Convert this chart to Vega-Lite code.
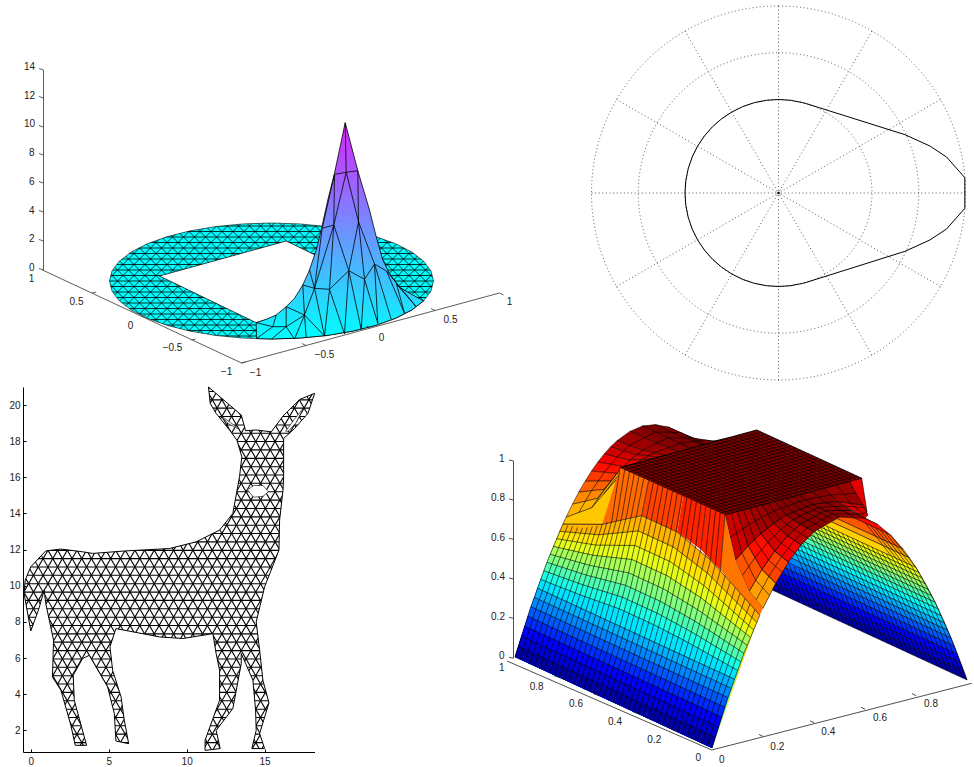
{"$schema":"https://vega.github.io/schema/vega-lite/v6.json","padding":{"left":8,"top":0,"right":0,"bottom":0},"background":"white","spacing":2,"config":{"view":{"stroke":null},"text":{"font":"Liberation Sans","fontSize":10,"fill":"#222"}},
"datasets":{
"aLat":[{"x":-238,"x2":-114,"y":-62,"y2":62},{"x":-227,"x2":-103,"y":-62,"y2":62},{"x":-216,"x2":-92,"y":-62,"y2":62},{"x":-205,"x2":-81,"y":-62,"y2":62},{"x":-194,"x2":-70,"y":-62,"y2":62},{"x":-183,"x2":-59,"y":-62,"y2":62},{"x":-172,"x2":-48,"y":-62,"y2":62},{"x":-161,"x2":-37,"y":-62,"y2":62},{"x":-150,"x2":-26,"y":-62,"y2":62},{"x":-139,"x2":-15,"y":-62,"y2":62},{"x":-128,"x2":-4,"y":-62,"y2":62},{"x":-117,"x2":7,"y":-62,"y2":62},{"x":-106,"x2":18,"y":-62,"y2":62},{"x":-95,"x2":29,"y":-62,"y2":62},{"x":-84,"x2":40,"y":-62,"y2":62},{"x":-73,"x2":51,"y":-62,"y2":62},{"x":-62,"x2":62,"y":-62,"y2":62},{"x":-51,"x2":73,"y":-62,"y2":62},{"x":-40,"x2":84,"y":-62,"y2":62},{"x":-29,"x2":95,"y":-62,"y2":62},{"x":-18,"x2":106,"y":-62,"y2":62},{"x":-7,"x2":117,"y":-62,"y2":62},{"x":4,"x2":128,"y":-62,"y2":62},{"x":15,"x2":139,"y":-62,"y2":62},{"x":26,"x2":150,"y":-62,"y2":62},{"x":37,"x2":161,"y":-62,"y2":62},{"x":48,"x2":172,"y":-62,"y2":62},{"x":59,"x2":183,"y":-62,"y2":62},{"x":70,"x2":194,"y":-62,"y2":62},{"x":81,"x2":205,"y":-62,"y2":62},{"x":92,"x2":216,"y":-62,"y2":62},{"x":103,"x2":227,"y":-62,"y2":62},{"x":114,"x2":238,"y":-62,"y2":62},{"x2":-238,"x":-114,"y":-62,"y2":62},{"x2":-227,"x":-103,"y":-62,"y2":62},{"x2":-216,"x":-92,"y":-62,"y2":62},{"x2":-205,"x":-81,"y":-62,"y2":62},{"x2":-194,"x":-70,"y":-62,"y2":62},{"x2":-183,"x":-59,"y":-62,"y2":62},{"x2":-172,"x":-48,"y":-62,"y2":62},{"x2":-161,"x":-37,"y":-62,"y2":62},{"x2":-150,"x":-26,"y":-62,"y2":62},{"x2":-139,"x":-15,"y":-62,"y2":62},{"x2":-128,"x":-4,"y":-62,"y2":62},{"x2":-117,"x":7,"y":-62,"y2":62},{"x2":-106,"x":18,"y":-62,"y2":62},{"x2":-95,"x":29,"y":-62,"y2":62},{"x2":-84,"x":40,"y":-62,"y2":62},{"x2":-73,"x":51,"y":-62,"y2":62},{"x2":-62,"x":62,"y":-62,"y2":62},{"x2":-51,"x":73,"y":-62,"y2":62},{"x2":-40,"x":84,"y":-62,"y2":62},{"x2":-29,"x":95,"y":-62,"y2":62},{"x2":-18,"x":106,"y":-62,"y2":62},{"x2":-7,"x":117,"y":-62,"y2":62},{"x2":4,"x":128,"y":-62,"y2":62},{"x2":15,"x":139,"y":-62,"y2":62},{"x2":26,"x":150,"y":-62,"y2":62},{"x2":37,"x":161,"y":-62,"y2":62},{"x2":48,"x":172,"y":-62,"y2":62},{"x2":59,"x":183,"y":-62,"y2":62},{"x2":70,"x":194,"y":-62,"y2":62},{"x2":81,"x":205,"y":-62,"y2":62},{"x2":92,"x":216,"y":-62,"y2":62},{"x2":103,"x":227,"y":-62,"y2":62},{"x2":114,"x":238,"y":-62,"y2":62}],
"aRow":[{"x":-240,"x2":240,"y":-60.5},{"x":-240,"x2":240,"y":-55},{"x":-240,"x2":240,"y":-49.5},{"x":-240,"x2":240,"y":-44},{"x":-240,"x2":240,"y":-38.5},{"x":-240,"x2":240,"y":-33},{"x":-240,"x2":240,"y":-27.5},{"x":-240,"x2":240,"y":-22},{"x":-240,"x2":240,"y":-16.5},{"x":-240,"x2":240,"y":-11},{"x":-240,"x2":240,"y":-5.5},{"x":-240,"x2":240,"y":0},{"x":-240,"x2":240,"y":5.5},{"x":-240,"x2":240,"y":11},{"x":-240,"x2":240,"y":16.5},{"x":-240,"x2":240,"y":22},{"x":-240,"x2":240,"y":27.5},{"x":-240,"x2":240,"y":33},{"x":-240,"x2":240,"y":38.5},{"x":-240,"x2":240,"y":44},{"x":-240,"x2":240,"y":49.5},{"x":-240,"x2":240,"y":55},{"x":-240,"x2":240,"y":60.5}],
"aBase":[{"x":-240,"y":-62},{"x":240,"y":-62},{"x":240,"y":62},{"x":-240,"y":62}],
"aMask":[{"x":245,"y":0,"e":1},{"x":245,"y":64,"e":1},{"x":-245,"y":64,"e":1},{"x":-245,"y":-64,"e":1},{"x":245,"y":-64,"e":1},{"x":245,"y":0,"e":1},{"x":162,"y":0},{"x":159.5,"y":-10.1},{"x":152.2,"y":-19.8},{"x":140.3,"y":-29},{"x":124.1,"y":-37.3},{"x":104.1,"y":-44.4},{"x":81,"y":-50.2},{"x":55.4,"y":-54.5},{"x":28.2,"y":-57.1},{"x":0,"y":-58},{"x":-28.2,"y":-57.1},{"x":-55.4,"y":-54.5},{"x":-81,"y":-50.2},{"x":-104.1,"y":-44.4},{"x":-124.1,"y":-37.3},{"x":-140.3,"y":-29},{"x":-152.2,"y":-19.8},{"x":-159.5,"y":-10.1},{"x":-162,"y":0},{"x":-159.5,"y":10.1},{"x":-152.2,"y":19.8},{"x":-140.3,"y":29},{"x":-124.1,"y":37.3},{"x":-104.1,"y":44.4},{"x":-81,"y":50.2},{"x":-55.4,"y":54.5},{"x":-28.2,"y":57.1},{"x":0,"y":58},{"x":28.2,"y":57.1},{"x":55.4,"y":54.5},{"x":81,"y":50.2},{"x":104.1,"y":44.4},{"x":124.1,"y":37.3},{"x":140.3,"y":29},{"x":152.2,"y":19.8},{"x":159.5,"y":10.1},{"x":162,"y":0}],
"aHole":[{"x":-112,"y":5},{"x":14.7,"y":40},{"x":111.4,"y":-6.7},{"x":-15.3,"y":-41.7},{"x":-112,"y":5}],
"aPeak":[{"x":-15.3,"y":-41.7},{"x":-5.3,"y":-38.3},{"x":4.7,"y":-34},{"x":14.7,"y":-25.7},{"x":23,"y":-17.3},{"x":31.3,"y":-4},{"x":38,"y":11},{"x":44.7,"y":31},{"x":49.7,"y":51},{"x":56.3,"y":81},{"x":63,"y":107.7},{"x":73.7,"y":158.3},{"x":86.3,"y":110.3},{"x":98,"y":71},{"x":104.7,"y":44.3},{"x":111.3,"y":21},{"x":118,"y":7.7},{"x":128,"y":-6.3},{"x":141.3,"y":-14},{"x":152.2,"y":-19.8},{"x":140.3,"y":-29},{"x":124.1,"y":-37.3},{"x":104.1,"y":-44.4},{"x":81,"y":-50.2},{"x":55.4,"y":-54.5},{"x":28.2,"y":-57.1},{"x":0,"y":-58},{"x":-15,"y":-57.6}],
"aEdge":[{"x":73.7,"y":158.3,"x2":74.7,"y2":108.7},{"x":63,"y":106.7,"x2":74.7,"y2":108.7},{"x":74.7,"y":108.7,"x2":86.3,"y2":110.3},{"x":74.7,"y":108.7,"x2":62.3,"y2":56},{"x":74.7,"y":108.7,"x2":87,"y2":59.3},{"x":63,"y":106.7,"x2":62.3,"y2":56},{"x":86.3,"y":110.3,"x2":87,"y2":59.3},{"x":63,"y":106.7,"x2":50.7,"y2":52.7},{"x":50.7,"y":52.7,"x2":62.3,"y2":56},{"x":62.3,"y":56,"x2":77.3,"y2":10.3},{"x":62.3,"y":56,"x2":58,"y2":-8.3},{"x":87,"y":59.3,"x2":77.3,"y2":10.3},{"x":87,"y":59.3,"x2":93,"y2":1.7},{"x":87,"y":59.3,"x2":103,"y2":17},{"x":50.7,"y":52.7,"x2":43,"y2":-7.3},{"x":62.3,"y":56,"x2":43,"y2":-7.3},{"x":43,"y":-7.3,"x2":58,"y2":-8.3},{"x":58,"y":-8.3,"x2":77.3,"y2":10.3},{"x":77.3,"y":10.3,"x2":93,"y2":1.7},{"x":93,"y":1.7,"x2":103,"y2":17},{"x":103,"y":17,"x2":115,"y2":10},{"x":77.3,"y":10.3,"x2":73,"y2":-53},{"x":77.3,"y":10.3,"x2":89.7,"y2":-48.3},{"x":58,"y":-8.3,"x2":53,"y2":-55},{"x":58,"y":-8.3,"x2":73,"y2":-53},{"x":93,"y":1.7,"x2":89.7,"y2":-48.3},{"x":93,"y":1.7,"x2":106.3,"y2":-42.3},{"x":103,"y":17,"x2":106.3,"y2":-42.3},{"x":103,"y":17,"x2":119.7,"y2":-38.3},{"x":115,"y":10,"x2":133,"y2":-32.3},{"x":115,"y":10,"x2":144.7,"y2":-25.7},{"x":125,"y":-3,"x2":144.7,"y2":-25.7},{"x":125,"y":-3,"x2":133,"y2":-32.3},{"x":43,"y":-7.3,"x2":33,"y2":-34},{"x":33,"y":-34,"x2":34.7,"y2":-56.3},{"x":33,"y":-34,"x2":23,"y2":-58},{"x":33,"y":-34,"x2":53,"y2":-55},{"x":43,"y":-7.3,"x2":53,"y2":-55},{"x":33,"y":-34,"x2":14.7,"y2":-45.7},{"x":14.7,"y":-45.7,"x2":1.3,"y2":-45.7},{"x":14.7,"y":-45.7,"x2":23,"y2":-58},{"x":14.7,"y":-45.7,"x2":0,"y2":-58},{"x":1.3,"y":-45.7,"x2":-15,"y2":-57.6},{"x":14.7,"y":-25.7,"x2":33,"y2":-34},{"x":14.7,"y":-25.7,"x2":14.7,"y2":-45.7},{"x":31.3,"y":-4,"x2":33,"y2":-34},{"x":31.3,"y":-4,"x2":43,"y2":-7.3},{"x":38,"y":11,"x2":43,"y2":-7.3},{"x":4.7,"y":-34,"x2":1.3,"y2":-45.7},{"x":-15.3,"y":-41.7,"x2":1.3,"y2":-45.7}],
"aAxis":[{"x":-228,"y":211,"x2":-228,"y2":11},{"x":-229,"y":11,"x2":-30,"y2":-82},{"x":-30,"y":-82,"x2":228,"y2":-12},{"x":-228,"y":211,"x2":-232.5,"y2":212.5},{"x":-228,"y":183,"x2":-232.5,"y2":184.5},{"x":-228,"y":154,"x2":-232.5,"y2":155.5},{"x":-228,"y":126,"x2":-232.5,"y2":127.5},{"x":-228,"y":98,"x2":-232.5,"y2":99.5},{"x":-228,"y":69,"x2":-232.5,"y2":70.5},{"x":-228,"y":40,"x2":-232.5,"y2":41.5},{"x":-228,"y":11,"x2":-232.5,"y2":12.5},{"x":-179.3,"y":-12,"x2":-175.3,"y2":-11},{"x":-130,"y":-35.5,"x2":-126,"y2":-34.5},{"x":-80,"y":-59,"x2":-76,"y2":-58},{"x":-30,"y":-82,"x2":-26,"y2":-81},{"x":34.5,"y":-64.5,"x2":30.5,"y2":-62.5},{"x":99,"y":-47,"x2":95,"y2":-45},{"x":163.5,"y":-29.5,"x2":159.5,"y2":-27.5},{"x":228,"y":-12,"x2":232,"y2":-14}],
"aText":[{"x":-242,"y":214.3,"t":"14"},{"x":-242,"y":185.3,"t":"12"},{"x":-242,"y":157,"t":"10"},{"x":-239.7,"y":128.3,"t":"8"},{"x":-239.7,"y":99,"t":"6"},{"x":-239.7,"y":70,"t":"4"},{"x":-239.7,"y":42,"t":"2"},{"x":-239.7,"y":13.3,"t":"0"},{"x":-240,"y":2,"t":"1"},{"x":-195,"y":-21,"t":"0.5"},{"x":-141,"y":-45,"t":"0"},{"x":-99,"y":-67,"t":"−0.5"},{"x":-45,"y":-91,"t":"−1"},{"x":-16,"y":-92,"t":"−1"},{"x":53,"y":-74,"t":"−0.5"},{"x":110,"y":-57,"t":"0"},{"x":179,"y":-39,"t":"0.5"},{"x":238,"y":-21,"t":"1"}],
"bRing":[{"x":0,"y":0,"r":1.5},{"x":0,"y":0,"r":2.25},{"x":0,"y":0,"r":3}],
"bSpoke":[{"x":3,"y":0},{"x":2.598,"y":1.5},{"x":1.5,"y":2.598},{"x":0,"y":3},{"x":-1.5,"y":2.598},{"x":-2.598,"y":1.5},{"x":-3,"y":0},{"x":-2.598,"y":-1.5},{"x":-1.5,"y":-2.598},{"x":0,"y":-3},{"x":1.5,"y":-2.598},{"x":2.598,"y":-1.5}],
"bCurve":[{"x":2.989,"y":0.246},{"x":2.695,"y":0.578},{"x":2.428,"y":0.754},{"x":2.027,"y":0.936},{"x":0.449,"y":1.433},{"x":0.388,"y":1.449},{"x":0.194,"y":1.487},{"x":0,"y":1.5},{"x":-0.194,"y":1.487},{"x":-0.388,"y":1.449},{"x":-0.574,"y":1.386},{"x":-0.75,"y":1.299},{"x":-0.913,"y":1.19},{"x":-1.061,"y":1.061},{"x":-1.19,"y":0.913},{"x":-1.299,"y":0.75},{"x":-1.386,"y":0.574},{"x":-1.449,"y":0.388},{"x":-1.487,"y":0.194},{"x":-1.5,"y":0},{"x":-1.487,"y":-0.194},{"x":-1.449,"y":-0.388},{"x":-1.386,"y":-0.574},{"x":-1.299,"y":-0.75},{"x":-1.19,"y":-0.913},{"x":-1.061,"y":-1.061},{"x":-0.913,"y":-1.19},{"x":-0.75,"y":-1.299},{"x":-0.574,"y":-1.386},{"x":-0.388,"y":-1.449},{"x":-0.194,"y":-1.487},{"x":0,"y":-1.5},{"x":0.194,"y":-1.487},{"x":0.388,"y":-1.449},{"x":0.449,"y":-1.433},{"x":2.027,"y":-0.936},{"x":2.428,"y":-0.754},{"x":2.695,"y":-0.578},{"x":2.989,"y":-0.246},{"x":2.989,"y":0.246}],
"cDiag":[{"x":-7,"x2":6.53,"y":0.8,"y2":21},{"x":-6.38,"x2":7.15,"y":0.8,"y2":21},{"x":-5.76,"x2":7.77,"y":0.8,"y2":21},{"x":-5.14,"x2":8.39,"y":0.8,"y2":21},{"x":-4.52,"x2":9.01,"y":0.8,"y2":21},{"x":-3.9,"x2":9.63,"y":0.8,"y2":21},{"x":-3.28,"x2":10.25,"y":0.8,"y2":21},{"x":-2.66,"x2":10.87,"y":0.8,"y2":21},{"x":-2.04,"x2":11.49,"y":0.8,"y2":21},{"x":-1.42,"x2":12.11,"y":0.8,"y2":21},{"x":-0.8,"x2":12.73,"y":0.8,"y2":21},{"x":-0.18,"x2":13.35,"y":0.8,"y2":21},{"x":0.44,"x2":13.97,"y":0.8,"y2":21},{"x":1.06,"x2":14.59,"y":0.8,"y2":21},{"x":1.68,"x2":15.21,"y":0.8,"y2":21},{"x":2.3,"x2":15.83,"y":0.8,"y2":21},{"x":2.92,"x2":16.45,"y":0.8,"y2":21},{"x":3.54,"x2":17.07,"y":0.8,"y2":21},{"x":4.16,"x2":17.69,"y":0.8,"y2":21},{"x":4.78,"x2":18.31,"y":0.8,"y2":21},{"x":5.4,"x2":18.93,"y":0.8,"y2":21},{"x":6.02,"x2":19.55,"y":0.8,"y2":21},{"x":6.64,"x2":20.17,"y":0.8,"y2":21},{"x":7.26,"x2":20.79,"y":0.8,"y2":21},{"x":7.88,"x2":21.41,"y":0.8,"y2":21},{"x":8.5,"x2":22.03,"y":0.8,"y2":21},{"x":9.12,"x2":22.65,"y":0.8,"y2":21},{"x":9.74,"x2":23.27,"y":0.8,"y2":21},{"x":10.36,"x2":23.89,"y":0.8,"y2":21},{"x":10.98,"x2":24.51,"y":0.8,"y2":21},{"x":11.6,"x2":25.13,"y":0.8,"y2":21},{"x":12.22,"x2":25.75,"y":0.8,"y2":21},{"x":12.84,"x2":26.37,"y":0.8,"y2":21},{"x":13.46,"x2":26.99,"y":0.8,"y2":21},{"x":14.08,"x2":27.61,"y":0.8,"y2":21},{"x":14.7,"x2":28.23,"y":0.8,"y2":21},{"x":3,"x2":-10.53,"y":0.8,"y2":21},{"x":3.62,"x2":-9.91,"y":0.8,"y2":21},{"x":4.24,"x2":-9.29,"y":0.8,"y2":21},{"x":4.86,"x2":-8.67,"y":0.8,"y2":21},{"x":5.48,"x2":-8.05,"y":0.8,"y2":21},{"x":6.1,"x2":-7.43,"y":0.8,"y2":21},{"x":6.72,"x2":-6.81,"y":0.8,"y2":21},{"x":7.34,"x2":-6.19,"y":0.8,"y2":21},{"x":7.96,"x2":-5.57,"y":0.8,"y2":21},{"x":8.58,"x2":-4.95,"y":0.8,"y2":21},{"x":9.2,"x2":-4.33,"y":0.8,"y2":21},{"x":9.82,"x2":-3.71,"y":0.8,"y2":21},{"x":10.44,"x2":-3.09,"y":0.8,"y2":21},{"x":11.06,"x2":-2.47,"y":0.8,"y2":21},{"x":11.68,"x2":-1.85,"y":0.8,"y2":21},{"x":12.3,"x2":-1.23,"y":0.8,"y2":21},{"x":12.92,"x2":-0.61,"y":0.8,"y2":21},{"x":13.54,"x2":0.01,"y":0.8,"y2":21},{"x":14.16,"x2":0.63,"y":0.8,"y2":21},{"x":14.78,"x2":1.25,"y":0.8,"y2":21},{"x":15.4,"x2":1.87,"y":0.8,"y2":21},{"x":16.02,"x2":2.49,"y":0.8,"y2":21},{"x":16.64,"x2":3.11,"y":0.8,"y2":21},{"x":17.26,"x2":3.73,"y":0.8,"y2":21},{"x":17.88,"x2":4.35,"y":0.8,"y2":21},{"x":18.5,"x2":4.97,"y":0.8,"y2":21},{"x":19.12,"x2":5.59,"y":0.8,"y2":21},{"x":19.74,"x2":6.21,"y":0.8,"y2":21},{"x":20.36,"x2":6.83,"y":0.8,"y2":21},{"x":20.98,"x2":7.45,"y":0.8,"y2":21},{"x":21.6,"x2":8.07,"y":0.8,"y2":21},{"x":22.22,"x2":8.69,"y":0.8,"y2":21},{"x":22.84,"x2":9.31,"y":0.8,"y2":21},{"x":23.46,"x2":9.93,"y":0.8,"y2":21},{"x":24.08,"x2":10.55,"y":0.8,"y2":21},{"x":24.7,"x2":11.17,"y":0.8,"y2":21},{"x":25.32,"x2":11.79,"y":0.8,"y2":21},{"x":25.94,"x2":12.41,"y":0.8,"y2":21},{"x":26.56,"x2":13.03,"y":0.8,"y2":21},{"x":27.18,"x2":13.65,"y":0.8,"y2":21},{"x":27.8,"x2":14.27,"y":0.8,"y2":21},{"x":28.42,"x2":14.89,"y":0.8,"y2":21},{"x":29.04,"x2":15.51,"y":0.8,"y2":21},{"x":29.66,"x2":16.13,"y":0.8,"y2":21},{"x":30.28,"x2":16.75,"y":0.8,"y2":21},{"x":30.9,"x2":17.37,"y":0.8,"y2":21},{"x":31.52,"x2":17.99,"y":0.8,"y2":21}],
"cRow":[{"x":-0.5,"x2":18.2,"y":0.86},{"x":-0.5,"x2":18.2,"y":1.32},{"x":-0.5,"x2":18.2,"y":1.79},{"x":-0.5,"x2":18.2,"y":2.25},{"x":-0.5,"x2":18.2,"y":2.71},{"x":-0.5,"x2":18.2,"y":3.17},{"x":-0.5,"x2":18.2,"y":3.64},{"x":-0.5,"x2":18.2,"y":4.1},{"x":-0.5,"x2":18.2,"y":4.56},{"x":-0.5,"x2":18.2,"y":5.02},{"x":-0.5,"x2":18.2,"y":5.49},{"x":-0.5,"x2":18.2,"y":5.95},{"x":-0.5,"x2":18.2,"y":6.41},{"x":-0.5,"x2":18.2,"y":6.88},{"x":-0.5,"x2":18.2,"y":7.34},{"x":-0.5,"x2":18.2,"y":7.8},{"x":-0.5,"x2":18.2,"y":8.26},{"x":-0.5,"x2":18.2,"y":8.73},{"x":-0.5,"x2":18.2,"y":9.19},{"x":-0.5,"x2":18.2,"y":9.65},{"x":-0.5,"x2":18.2,"y":10.11},{"x":-0.5,"x2":18.2,"y":10.58},{"x":-0.5,"x2":18.2,"y":11.04},{"x":-0.5,"x2":18.2,"y":11.5},{"x":-0.5,"x2":18.2,"y":11.96},{"x":-0.5,"x2":18.2,"y":12.43},{"x":-0.5,"x2":18.2,"y":12.89},{"x":-0.5,"x2":18.2,"y":13.35},{"x":-0.5,"x2":18.2,"y":13.81},{"x":-0.5,"x2":18.2,"y":14.28},{"x":-0.5,"x2":18.2,"y":14.74},{"x":-0.5,"x2":18.2,"y":15.2},{"x":-0.5,"x2":18.2,"y":15.67},{"x":-0.5,"x2":18.2,"y":16.13},{"x":-0.5,"x2":18.2,"y":16.59},{"x":-0.5,"x2":18.2,"y":17.05},{"x":-0.5,"x2":18.2,"y":17.52},{"x":-0.5,"x2":18.2,"y":17.98},{"x":-0.5,"x2":18.2,"y":18.44},{"x":-0.5,"x2":18.2,"y":18.9},{"x":-0.5,"x2":18.2,"y":19.37},{"x":-0.5,"x2":18.2,"y":19.83},{"x":-0.5,"x2":18.2,"y":20.29},{"x":-0.5,"x2":18.2,"y":20.75}],
"cOut":[{"x":11.4,"y":21.05,"e":1},{"x":-0.5,"y":21.05,"e":1},{"x":-0.5,"y":0.8,"e":1},{"x":18.25,"y":0.8,"e":1},{"x":18.25,"y":21.05,"e":1},{"x":11.4,"y":21.05,"e":1},{"x":11.4,"y":21},{"x":13.5,"y":19.45},{"x":13.78,"y":18.58},{"x":14.46,"y":18.62},{"x":15.43,"y":18.52},{"x":16.18,"y":19.39},{"x":17.25,"y":20.31},{"x":18.21,"y":20.65},{"x":17.78,"y":19.54},{"x":16.93,"y":18.71},{"x":16.22,"y":18.15},{"x":16.22,"y":16.03},{"x":16.18,"y":15.29},{"x":15.96,"y":13.63},{"x":15.92,"y":11.97},{"x":15,"y":9.94},{"x":14.46,"y":8},{"x":14.68,"y":6.43},{"x":14.89,"y":4.77},{"x":15.28,"y":3.52},{"x":14.68,"y":1.82},{"x":15,"y":0.99},{"x":14.18,"y":0.99},{"x":14.46,"y":2},{"x":14.42,"y":3.11},{"x":14.25,"y":4.77},{"x":13.5,"y":6.25},{"x":13.5,"y":5.69},{"x":12.96,"y":3.2},{"x":11.89,"y":2},{"x":12.15,"y":0.99},{"x":11.18,"y":0.89},{"x":11.18,"y":1.45},{"x":12.11,"y":3.66},{"x":12.11,"y":5.32},{"x":11.89,"y":6.25},{"x":11.68,"y":7.35},{"x":9.75,"y":7.08},{"x":8.25,"y":7.17},{"x":5.46,"y":7.63},{"x":5.08,"y":6.62},{"x":5.25,"y":5.32},{"x":5.79,"y":3.85},{"x":6,"y":2.55},{"x":6.28,"y":1.26},{"x":5.46,"y":1.41},{"x":5.36,"y":2.92},{"x":4.93,"y":4.4},{"x":3.75,"y":6.15},{"x":3.32,"y":5.97},{"x":2.72,"y":5.05},{"x":2.79,"y":3.66},{"x":3.58,"y":1.17},{"x":2.85,"y":1.17},{"x":2.57,"y":2.28},{"x":1.93,"y":4.22},{"x":1.39,"y":4.95},{"x":1.46,"y":6.99},{"x":0.96,"y":9.02},{"x":0.86,"y":9.75},{"x":0.49,"y":8.65},{"x":0,"y":7.5},{"x":-0.43,"y":9.57},{"x":-0.36,"y":10.31},{"x":0,"y":11.05},{"x":0.96,"y":11.93},{"x":1.93,"y":12.03},{"x":3.32,"y":11.88},{"x":3.96,"y":11.79},{"x":6.11,"y":11.93},{"x":8.89,"y":12.06},{"x":10.61,"y":12.43},{"x":12.11,"y":13.08},{"x":12.96,"y":14},{"x":13.39,"y":16.03},{"x":13.54,"y":17.14},{"x":13.22,"y":18.06},{"x":12.75,"y":18.62},{"x":11.89,"y":19.54},{"x":11.51,"y":20.09},{"x":11.4,"y":21}],
"cHole":[{"x":13.9,"y":15.3,"g":1},{"x":14.3,"y":15.55,"g":1},{"x":14.9,"y":15.55,"g":1},{"x":15.25,"y":15.2,"g":1},{"x":14.9,"y":14.95,"g":1},{"x":14.3,"y":14.9,"g":1},{"x":12.2,"y":19.4,"g":2},{"x":13.1,"y":18.85,"g":2},{"x":13.4,"y":18.65,"g":2},{"x":12.7,"y":18.95,"g":2},{"x":16.35,"y":18.55,"g":3},{"x":16.9,"y":19.2,"g":3},{"x":17.5,"y":19.85,"g":3},{"x":17,"y":19,"g":3},{"x":16.5,"y":18.55,"g":3}],
"dLobe":[{"x":127.5,"y":231,"g":0,"z":0.97},{"x":153,"y":229.9,"g":0,"z":0.97},{"x":-44,"y":320.9,"g":0,"z":0.97},{"x":-69.5,"y":322,"g":0,"z":0.97},{"x":153,"y":229.9,"g":1,"z":0.93},{"x":165.75,"y":223.5,"g":1,"z":0.93},{"x":-31.25,"y":314.5,"g":1,"z":0.93},{"x":-44,"y":320.9,"g":1,"z":0.93},{"x":165.75,"y":223.5,"g":2,"z":0.87},{"x":178.5,"y":213.1,"g":2,"z":0.87},{"x":-18.5,"y":304.1,"g":2,"z":0.87},{"x":-31.25,"y":314.5,"g":2,"z":0.87},{"x":178.5,"y":213.1,"g":3,"z":0.79},{"x":191.25,"y":198.8,"g":3,"z":0.79},{"x":-5.75,"y":289.8,"g":3,"z":0.79},{"x":-18.5,"y":304.1,"g":3,"z":0.79},{"x":191.25,"y":198.8,"g":4,"z":0.72},{"x":197.6,"y":190.1,"g":4,"z":0.72},{"x":0.6,"y":281.1,"g":4,"z":0.72},{"x":-5.75,"y":289.8,"g":4,"z":0.72},{"x":197.6,"y":190.1,"g":5,"z":0.67},{"x":204,"y":180.4,"g":5,"z":0.67},{"x":7,"y":271.4,"g":5,"z":0.67},{"x":0.6,"y":281.1,"g":5,"z":0.67},{"x":204,"y":180.4,"g":6,"z":0.625},{"x":207.2,"y":175.3,"g":6,"z":0.625},{"x":10.2,"y":266.3,"g":6,"z":0.625},{"x":7,"y":271.4,"g":6,"z":0.625},{"x":207.2,"y":175.3,"g":7,"z":0.594},{"x":210.4,"y":169.9,"g":7,"z":0.594},{"x":13.4,"y":260.9,"g":7,"z":0.594},{"x":10.2,"y":266.3,"g":7,"z":0.594},{"x":210.4,"y":169.9,"g":8,"z":0.561},{"x":213.6,"y":164.2,"g":8,"z":0.561},{"x":16.6,"y":255.2,"g":8,"z":0.561},{"x":13.4,"y":260.9,"g":8,"z":0.561},{"x":213.6,"y":164.2,"g":9,"z":0.527},{"x":216.75,"y":158.3,"g":9,"z":0.527},{"x":19.75,"y":249.3,"g":9,"z":0.527},{"x":16.6,"y":255.2,"g":9,"z":0.527},{"x":216.75,"y":158.3,"g":10,"z":0.492},{"x":219.9,"y":152.2,"g":10,"z":0.492},{"x":22.9,"y":243.2,"g":10,"z":0.492},{"x":19.75,"y":249.3,"g":10,"z":0.492},{"x":219.9,"y":152.2,"g":11,"z":0.456},{"x":223.1,"y":145.7,"g":11,"z":0.456},{"x":26.1,"y":236.7,"g":11,"z":0.456},{"x":22.9,"y":243.2,"g":11,"z":0.456},{"x":223.1,"y":145.7,"g":12,"z":0.419},{"x":226.3,"y":139,"g":12,"z":0.419},{"x":29.3,"y":230,"g":12,"z":0.419},{"x":26.1,"y":236.7,"g":12,"z":0.419},{"x":226.3,"y":139,"g":13,"z":0.38},{"x":229.5,"y":132.1,"g":13,"z":0.38},{"x":32.5,"y":223.1,"g":13,"z":0.38},{"x":29.3,"y":230,"g":13,"z":0.38},{"x":229.5,"y":132.1,"g":14,"z":0.34},{"x":232.7,"y":125,"g":14,"z":0.34},{"x":35.7,"y":216,"g":14,"z":0.34},{"x":32.5,"y":223.1,"g":14,"z":0.34},{"x":232.7,"y":125,"g":15,"z":0.299},{"x":235.9,"y":117.6,"g":15,"z":0.299},{"x":38.9,"y":208.6,"g":15,"z":0.299},{"x":35.7,"y":216,"g":15,"z":0.299},{"x":235.9,"y":117.6,"g":16,"z":0.256},{"x":239.1,"y":110,"g":16,"z":0.256},{"x":42.1,"y":201,"g":16,"z":0.256},{"x":38.9,"y":208.6,"g":16,"z":0.256},{"x":239.1,"y":110,"g":17,"z":0.212},{"x":242.25,"y":102,"g":17,"z":0.212},{"x":45.25,"y":193,"g":17,"z":0.212},{"x":42.1,"y":201,"g":17,"z":0.212},{"x":242.25,"y":102,"g":18,"z":0.167},{"x":245.4,"y":93.9,"g":18,"z":0.167},{"x":48.4,"y":184.9,"g":18,"z":0.167},{"x":45.25,"y":193,"g":18,"z":0.167},{"x":245.4,"y":93.9,"g":19,"z":0.121},{"x":248.6,"y":85.5,"g":19,"z":0.121},{"x":51.6,"y":176.5,"g":19,"z":0.121},{"x":48.4,"y":184.9,"g":19,"z":0.121},{"x":248.6,"y":85.5,"g":20,"z":0.074},{"x":251.8,"y":76.9,"g":20,"z":0.074},{"x":54.8,"y":167.9,"g":20,"z":0.074},{"x":51.6,"y":176.5,"g":20,"z":0.074},{"x":251.8,"y":76.9,"g":21,"z":0.025},{"x":255,"y":68,"g":21,"z":0.025},{"x":58,"y":159,"g":21,"z":0.025},{"x":54.8,"y":167.9,"g":21,"z":0.025}],
"dLobeX":[{"x":255,"y":68,"g":0},{"x":239.7,"y":108.3,"g":0},{"x":223.1,"y":145.7,"g":0},{"x":204,"y":180.4,"g":0},{"x":178.5,"y":213.1,"g":0},{"x":250.1,"y":70.3,"g":1},{"x":234.8,"y":110.6,"g":1},{"x":218.2,"y":148,"g":1},{"x":199.1,"y":182.7,"g":1},{"x":173.6,"y":215.4,"g":1},{"x":245.1,"y":72.6,"g":2},{"x":229.8,"y":112.9,"g":2},{"x":213.2,"y":150.3,"g":2},{"x":194.1,"y":185,"g":2},{"x":168.6,"y":217.7,"g":2},{"x":240.2,"y":74.8,"g":3},{"x":224.9,"y":115.1,"g":3},{"x":208.3,"y":152.5,"g":3},{"x":189.2,"y":187.2,"g":3},{"x":163.7,"y":219.9,"g":3},{"x":235.3,"y":77.1,"g":4},{"x":220,"y":117.4,"g":4},{"x":203.4,"y":154.8,"g":4},{"x":184.3,"y":189.5,"g":4},{"x":158.8,"y":222.2,"g":4},{"x":230.4,"y":79.4,"g":5},{"x":215.1,"y":119.7,"g":5},{"x":198.5,"y":157.1,"g":5},{"x":179.4,"y":191.8,"g":5},{"x":153.9,"y":224.5,"g":5},{"x":225.4,"y":81.7,"g":6},{"x":210.1,"y":122,"g":6},{"x":193.5,"y":159.4,"g":6},{"x":174.4,"y":194.1,"g":6},{"x":220.5,"y":83.9,"g":7},{"x":205.2,"y":124.2,"g":7},{"x":188.6,"y":161.6,"g":7},{"x":169.5,"y":196.3,"g":7},{"x":215.6,"y":86.2,"g":8},{"x":200.3,"y":126.5,"g":8},{"x":183.7,"y":163.9,"g":8},{"x":164.6,"y":198.6,"g":8},{"x":210.7,"y":88.5,"g":9},{"x":195.4,"y":128.8,"g":9},{"x":178.8,"y":166.2,"g":9},{"x":159.7,"y":200.9,"g":9},{"x":205.7,"y":90.8,"g":10},{"x":190.4,"y":131.1,"g":10},{"x":173.8,"y":168.5,"g":10},{"x":154.7,"y":203.2,"g":10},{"x":200.8,"y":93,"g":11},{"x":185.5,"y":133.3,"g":11},{"x":168.9,"y":170.7,"g":11},{"x":149.8,"y":205.4,"g":11},{"x":195.9,"y":95.3,"g":12},{"x":180.6,"y":135.6,"g":12},{"x":164,"y":173,"g":12},{"x":144.9,"y":207.7,"g":12},{"x":191,"y":97.6,"g":13},{"x":175.7,"y":137.9,"g":13},{"x":159.1,"y":175.3,"g":13},{"x":140,"y":210,"g":13},{"x":186,"y":99.9,"g":14},{"x":170.7,"y":140.2,"g":14},{"x":154.1,"y":177.6,"g":14},{"x":135,"y":212.3,"g":14},{"x":181.1,"y":102.1,"g":15},{"x":165.8,"y":142.4,"g":15},{"x":149.2,"y":179.8,"g":15},{"x":130.1,"y":214.5,"g":15},{"x":176.2,"y":104.4,"g":16},{"x":160.9,"y":144.7,"g":16},{"x":144.3,"y":182.1,"g":16},{"x":125.2,"y":216.8,"g":16},{"x":171.3,"y":106.7,"g":17},{"x":156,"y":147,"g":17},{"x":139.4,"y":184.4,"g":17},{"x":120.3,"y":219.1,"g":17},{"x":166.3,"y":109,"g":18},{"x":151,"y":149.3,"g":18},{"x":134.4,"y":186.7,"g":18},{"x":115.3,"y":221.4,"g":18},{"x":161.4,"y":111.2,"g":19},{"x":146.1,"y":151.5,"g":19},{"x":129.5,"y":188.9,"g":19},{"x":110.4,"y":223.6,"g":19},{"x":156.5,"y":113.5,"g":20},{"x":141.2,"y":153.8,"g":20},{"x":124.6,"y":191.2,"g":20},{"x":105.5,"y":225.9,"g":20},{"x":151.6,"y":115.8,"g":21},{"x":136.3,"y":156.1,"g":21},{"x":119.7,"y":193.5,"g":21},{"x":100.6,"y":228.2,"g":21},{"x":146.6,"y":118.1,"g":22},{"x":131.3,"y":158.4,"g":22},{"x":114.7,"y":195.8,"g":22},{"x":95.6,"y":230.5,"g":22},{"x":141.7,"y":120.3,"g":23},{"x":126.4,"y":160.6,"g":23},{"x":109.8,"y":198,"g":23},{"x":90.7,"y":232.7,"g":23},{"x":136.8,"y":122.6,"g":24},{"x":121.5,"y":162.9,"g":24},{"x":104.9,"y":200.3,"g":24},{"x":85.8,"y":235,"g":24},{"x":131.9,"y":124.9,"g":25},{"x":116.6,"y":165.2,"g":25},{"x":100,"y":202.6,"g":25},{"x":126.9,"y":127.2,"g":26},{"x":111.6,"y":167.5,"g":26},{"x":95,"y":204.9,"g":26},{"x":122,"y":129.4,"g":27},{"x":106.7,"y":169.7,"g":27},{"x":90.1,"y":207.1,"g":27},{"x":117.1,"y":131.7,"g":28},{"x":101.8,"y":172,"g":28},{"x":85.2,"y":209.4,"g":28},{"x":112.2,"y":134,"g":29},{"x":96.9,"y":174.3,"g":29},{"x":80.3,"y":211.7,"g":29},{"x":107.2,"y":136.3,"g":30},{"x":91.9,"y":176.6,"g":30},{"x":75.3,"y":214,"g":30},{"x":102.3,"y":138.5,"g":31},{"x":87,"y":178.8,"g":31},{"x":97.4,"y":140.8,"g":32},{"x":82.1,"y":181.1,"g":32},{"x":92.5,"y":143.1,"g":33},{"x":77.2,"y":183.4,"g":33},{"x":87.5,"y":145.4,"g":34},{"x":72.2,"y":185.7,"g":34},{"x":82.6,"y":147.6,"g":35},{"x":67.3,"y":187.9,"g":35},{"x":77.7,"y":149.9,"g":36},{"x":62.4,"y":190.2,"g":36},{"x":72.8,"y":152.2,"g":37},{"x":57.5,"y":192.5,"g":37},{"x":67.8,"y":154.5,"g":38},{"x":52.5,"y":194.8,"g":38},{"x":62.9,"y":156.7,"g":39},{"x":47.6,"y":197,"g":39},{"x":58,"y":159,"g":40},{"x":42.7,"y":199.3,"g":40}],
"dHump":[{"x":-18.5,"y":306,"g":1,"z":0.86},{"x":7.1,"y":297,"g":1,"z":0.86},{"x":30.75,"y":312.85,"g":1,"z":0.86},{"x":44,"y":316,"g":1,"z":0.86},{"x":-8,"y":305,"g":1,"z":0.86},{"x":-31.25,"y":314.5,"g":2,"z":0.92},{"x":-5.6,"y":305,"g":2,"z":0.92},{"x":18,"y":309.45,"g":2,"z":0.92},{"x":30.75,"y":312.85,"g":2,"z":0.92},{"x":7.1,"y":297,"g":2,"z":0.92},{"x":-18.5,"y":306,"g":2,"z":0.92},{"x":-44,"y":320.9,"g":3,"z":0.96},{"x":-18.4,"y":309.8,"g":3,"z":0.96},{"x":5.25,"y":306,"g":3,"z":0.96},{"x":18,"y":309.45,"g":3,"z":0.96},{"x":-5.6,"y":305,"g":3,"z":0.96},{"x":-31.25,"y":314.5,"g":3,"z":0.96},{"x":-56.75,"y":323.4,"g":4,"z":0.99},{"x":-31.2,"y":311.6,"g":4,"z":0.99},{"x":-7.5,"y":302.65,"g":4,"z":0.99},{"x":5.25,"y":306,"g":4,"z":0.99},{"x":-18.4,"y":309.8,"g":4,"z":0.99},{"x":-44,"y":320.9,"g":4,"z":0.99},{"x":-69.5,"y":322,"g":5,"z":1},{"x":-43.9,"y":310.2,"g":5,"z":1},{"x":-20.25,"y":299.25,"g":5,"z":1},{"x":-7.5,"y":302.65,"g":5,"z":1},{"x":-31.2,"y":311.6,"g":5,"z":1},{"x":-56.75,"y":323.4,"g":5,"z":1},{"x":-82.25,"y":316.6,"g":6,"z":0.995},{"x":-56.7,"y":305.4,"g":6,"z":0.995},{"x":-33,"y":295.85,"g":6,"z":0.995},{"x":-20.25,"y":299.25,"g":6,"z":0.995},{"x":-43.9,"y":310.2,"g":6,"z":0.995},{"x":-69.5,"y":322,"g":6,"z":0.995},{"x":-95,"y":307.3,"g":7,"z":0.97},{"x":-69.4,"y":297.9,"g":7,"z":0.97},{"x":-45.8,"y":292.45,"g":7,"z":0.97},{"x":-33,"y":295.85,"g":7,"z":0.97},{"x":-56.7,"y":305.4,"g":7,"z":0.97},{"x":-82.25,"y":316.6,"g":7,"z":0.97},{"x":-101.4,"y":301.2,"g":8,"z":0.945},{"x":-75.8,"y":293.2,"g":8,"z":0.945},{"x":-52.2,"y":290.75,"g":8,"z":0.945},{"x":-45.8,"y":292.45,"g":8,"z":0.945},{"x":-69.4,"y":297.9,"g":8,"z":0.945},{"x":-95,"y":307.3,"g":8,"z":0.945},{"x":-107.8,"y":294.1,"g":9,"z":0.92},{"x":-82.2,"y":287.7,"g":9,"z":0.92},{"x":-58.5,"y":289.05,"g":9,"z":0.92},{"x":-52.2,"y":290.75,"g":9,"z":0.92},{"x":-75.8,"y":293.2,"g":9,"z":0.92},{"x":-101.4,"y":301.2,"g":9,"z":0.92},{"x":-114.1,"y":286,"g":10,"z":0.89},{"x":-88.5,"y":281.4,"g":10,"z":0.89},{"x":-64.9,"y":287.4,"g":10,"z":0.89},{"x":-58.5,"y":289.05,"g":10,"z":0.89},{"x":-82.2,"y":287.7,"g":10,"z":0.89},{"x":-107.8,"y":294.1,"g":10,"z":0.89},{"x":-120.5,"y":276.9,"g":11,"z":0.86},{"x":-94.9,"y":274.5,"g":11,"z":0.86},{"x":-71.3,"y":285.7,"g":11,"z":0.86},{"x":-64.9,"y":287.4,"g":11,"z":0.86},{"x":-88.5,"y":281.4,"g":11,"z":0.86},{"x":-114.1,"y":286,"g":11,"z":0.86},{"x":-126.9,"y":266.8,"g":12,"z":0.82},{"x":-101.3,"y":267,"g":12,"z":0.82},{"x":-77.6,"y":284,"g":12,"z":0.82},{"x":-71.3,"y":285.7,"g":12,"z":0.82},{"x":-94.9,"y":274.5,"g":12,"z":0.82},{"x":-120.5,"y":276.9,"g":12,"z":0.82},{"x":-133.3,"y":255.8,"g":13,"z":0.78},{"x":-107.7,"y":258.7,"g":13,"z":0.78},{"x":-84,"y":282.3,"g":13,"z":0.78},{"x":-77.6,"y":284,"g":13,"z":0.78},{"x":-101.3,"y":267,"g":13,"z":0.78},{"x":-126.9,"y":266.8,"g":13,"z":0.78},{"x":-139.6,"y":243.7,"g":14,"z":0.74},{"x":-114,"y":249.8,"g":14,"z":0.74},{"x":-90.4,"y":280.6,"g":14,"z":0.74},{"x":-84,"y":282.3,"g":14,"z":0.74},{"x":-107.7,"y":258.7,"g":14,"z":0.74},{"x":-133.3,"y":255.8,"g":14,"z":0.74},{"x":-146,"y":230.7,"g":15,"z":0.7},{"x":-120.4,"y":240.2,"g":15,"z":0.7},{"x":-96,"y":268,"g":15,"z":0.7},{"x":-90.4,"y":280.6,"g":15,"z":0.7},{"x":-114,"y":249.8,"g":15,"z":0.7},{"x":-139.6,"y":243.7,"g":15,"z":0.7},{"x":-149.2,"y":223.8,"g":16,"z":0.68},{"x":-109.8,"y":223.6,"g":16,"z":0.68},{"x":-97,"y":233,"g":16,"z":0.68},{"x":-96,"y":268,"g":16,"z":0.68},{"x":-120.4,"y":240.2,"g":16,"z":0.68},{"x":-146,"y":230.7,"g":16,"z":0.68}],
"dHumpX":[{"x":-133.2,"y":235.5,"g":1},{"x":-120.5,"y":257.3,"g":1},{"x":-107.7,"y":275.7,"g":1},{"x":-95,"y":290.9,"g":1},{"x":-82.2,"y":302.6,"g":1},{"x":-56.7,"y":316.1,"g":1},{"x":-31.2,"y":315.4,"g":1},{"x":-5.7,"y":301.5,"g":1},{"x":-120.4,"y":240.2,"g":2},{"x":-107.7,"y":258.7,"g":2},{"x":-94.9,"y":274.5,"g":2},{"x":-82.2,"y":287.7,"g":2},{"x":-69.4,"y":297.9,"g":2},{"x":-43.9,"y":310.2,"g":2},{"x":-18.4,"y":309.8,"g":2},{"x":7.1,"y":297,"g":2},{"x":-108.2,"y":254.1,"g":3},{"x":-95.9,"y":270.5,"g":3},{"x":-83.1,"y":280.1,"g":3},{"x":-70.4,"y":288.4,"g":3},{"x":-57.6,"y":295.2,"g":3},{"x":-32.1,"y":304.8,"g":3},{"x":-6.6,"y":307.9,"g":3},{"x":19,"y":305,"g":3}],
"dPlate":[{"x":-92,"y":280.3},{"x":44.7,"y":318},{"x":149.7,"y":269.7},{"x":13,"y":233}],
"dGrid":[{"x":-92,"y":280.3,"x2":44.7,"y2":318},{"x":-87.6,"y":278.3,"x2":49.1,"y2":316},{"x":-83.3,"y":276.4,"x2":53.5,"y2":314},{"x":-78.9,"y":274.4,"x2":57.8,"y2":312},{"x":-74.5,"y":272.4,"x2":62.2,"y2":310},{"x":-70.1,"y":270.5,"x2":66.6,"y2":308},{"x":-65.8,"y":268.5,"x2":70.9,"y2":305.9},{"x":-61.4,"y":266.5,"x2":75.3,"y2":303.9},{"x":-57,"y":264.5,"x2":79.7,"y2":301.9},{"x":-52.6,"y":262.6,"x2":84.1,"y2":299.9},{"x":-48.3,"y":260.6,"x2":88.5,"y2":297.9},{"x":-43.9,"y":258.6,"x2":92.8,"y2":295.9},{"x":-39.5,"y":256.7,"x2":97.2,"y2":293.9},{"x":-35.1,"y":254.7,"x2":101.6,"y2":291.9},{"x":-30.8,"y":252.7,"x2":105.9,"y2":289.9},{"x":-26.4,"y":250.8,"x2":110.3,"y2":287.9},{"x":-22,"y":248.8,"x2":114.7,"y2":285.8},{"x":-17.6,"y":246.8,"x2":119.1,"y2":283.8},{"x":-13.3,"y":244.8,"x2":123.5,"y2":281.8},{"x":-8.9,"y":242.9,"x2":127.8,"y2":279.8},{"x":-4.5,"y":240.9,"x2":132.2,"y2":277.8},{"x":-0.1,"y":238.9,"x2":136.6,"y2":275.8},{"x":4.3,"y":237,"x2":140.9,"y2":273.8},{"x":8.6,"y":235,"x2":145.3,"y2":271.8},{"x":13,"y":233,"x2":149.7,"y2":269.7},{"x":-92,"y":280.3,"x2":13,"y2":233},{"x":-87.4,"y":281.6,"x2":17.6,"y2":234.2},{"x":-82.9,"y":282.8,"x2":22.1,"y2":235.4},{"x":-78.3,"y":284.1,"x2":26.7,"y2":236.7},{"x":-73.8,"y":285.3,"x2":31.2,"y2":237.9},{"x":-69.2,"y":286.6,"x2":35.8,"y2":239.1},{"x":-64.7,"y":287.8,"x2":40.3,"y2":240.3},{"x":-60.1,"y":289.1,"x2":44.9,"y2":241.6},{"x":-55.5,"y":290.4,"x2":49.5,"y2":242.8},{"x":-51,"y":291.6,"x2":54,"y2":244},{"x":-46.4,"y":292.9,"x2":58.6,"y2":245.2},{"x":-41.9,"y":294.1,"x2":63.1,"y2":246.5},{"x":-37.3,"y":295.4,"x2":67.7,"y2":247.7},{"x":-32.8,"y":296.6,"x2":72.2,"y2":248.9},{"x":-28.2,"y":297.9,"x2":76.8,"y2":250.1},{"x":-23.6,"y":299.2,"x2":81.4,"y2":251.3},{"x":-19.1,"y":300.4,"x2":85.9,"y2":252.6},{"x":-14.5,"y":301.7,"x2":90.5,"y2":253.8},{"x":-10,"y":302.9,"x2":95,"y2":255},{"x":-5.4,"y":304.2,"x2":99.6,"y2":256.2},{"x":-0.9,"y":305.4,"x2":104.1,"y2":257.5},{"x":3.7,"y":306.7,"x2":108.7,"y2":258.7},{"x":8.3,"y":308,"x2":113.3,"y2":259.9},{"x":12.8,"y":309.2,"x2":117.8,"y2":261.1},{"x":17.4,"y":310.5,"x2":122.4,"y2":262.4},{"x":21.9,"y":311.7,"x2":126.9,"y2":263.6},{"x":26.5,"y":313,"x2":131.5,"y2":264.8},{"x":31,"y":314.2,"x2":136,"y2":266},{"x":35.6,"y":315.5,"x2":140.6,"y2":267.2},{"x":40.1,"y":316.7,"x2":145.1,"y2":268.5},{"x":44.7,"y":318,"x2":149.7,"y2":269.7}],
"dFront":[
{"x":-149.2,"y":223.8,"g":15,"z":0.7},{"x":-109.8,"y":223.6,"g":15,"z":0.7},{"x":-70.4,"y":232.4,"g":15,"z":0.7},{"x":-34.9,"y":216,"g":15,"z":0.7},{"x":-1.5,"y":187.9,"g":15,"z":0.7},{"x":24.2,"y":159.5,"g":15,"z":0.7},{"x":47.8,"y":132.8,"g":15,"z":0.7},{"x":44.6,"y":125.7,"g":15,"z":0.7,"e":1},{"x":0,"y":0,"g":15,"z":0.7,"e":1},{"x":-197,"y":91,"g":15,"z":0.7,"e":1},{"x":-152.4,"y":216.7,"g":15,"z":0.7,"e":1},
{"x":-152.4,"y":216.7,"g":14,"z":0.65},{"x":-113,"y":213.2,"g":14,"z":0.65},{"x":-73.6,"y":217.1,"g":14,"z":0.65},{"x":-38.1,"y":200.7,"g":14,"z":0.65},{"x":-4.7,"y":174.9,"g":14,"z":0.65},{"x":21,"y":149.5,"g":14,"z":0.65},{"x":44.6,"y":125.7,"g":14,"z":0.65},{"x":41.4,"y":118.3,"g":14,"z":0.65,"e":1},{"x":0,"y":0,"g":14,"z":0.65,"e":1},{"x":-197,"y":91,"g":14,"z":0.65,"e":1},{"x":-155.6,"y":209.3,"g":14,"z":0.65,"e":1},
{"x":-155.6,"y":209.3,"g":13,"z":0.6},{"x":-116.2,"y":202.9,"g":13,"z":0.6},{"x":-76.8,"y":202.5,"g":13,"z":0.6},{"x":-41.3,"y":186.1,"g":13,"z":0.6},{"x":-7.9,"y":162.3,"g":13,"z":0.6},{"x":17.8,"y":139.6,"g":13,"z":0.6},{"x":41.4,"y":118.3,"g":13,"z":0.6},{"x":38.3,"y":110.7,"g":13,"z":0.6,"e":1},{"x":0,"y":0,"g":13,"z":0.6,"e":1},{"x":-197,"y":91,"g":13,"z":0.6,"e":1},{"x":-158.8,"y":201.7,"g":13,"z":0.6,"e":1},
{"x":-158.8,"y":201.7,"g":12,"z":0.54},{"x":-119.4,"y":192.8,"g":12,"z":0.54},{"x":-80,"y":188.5,"g":12,"z":0.54},{"x":-44.5,"y":172.1,"g":12,"z":0.54},{"x":-11,"y":150.2,"g":12,"z":0.54},{"x":14.7,"y":129.7,"g":12,"z":0.54},{"x":38.3,"y":110.7,"g":12,"z":0.54},{"x":35.1,"y":102.8,"g":12,"z":0.54,"e":1},{"x":0,"y":0,"g":12,"z":0.54,"e":1},{"x":-197,"y":91,"g":12,"z":0.54,"e":1},{"x":-161.9,"y":193.8,"g":12,"z":0.54,"e":1},
{"x":-161.9,"y":193.8,"g":11,"z":0.5},{"x":-122.5,"y":182.7,"g":11,"z":0.5},{"x":-83.1,"y":175.1,"g":11,"z":0.5},{"x":-47.6,"y":158.7,"g":11,"z":0.5},{"x":-14.1,"y":138.2,"g":11,"z":0.5},{"x":11.5,"y":119.9,"g":11,"z":0.5},{"x":35.1,"y":102.8,"g":11,"z":0.5},{"x":31.9,"y":94.7,"g":11,"z":0.5,"e":1},{"x":0,"y":0,"g":11,"z":0.5,"e":1},{"x":-197,"y":91,"g":11,"z":0.5,"e":1},{"x":-165.1,"y":185.7,"g":11,"z":0.5,"e":1},
{"x":-165.1,"y":185.7,"g":10,"z":0.45},{"x":-125.7,"y":172.9,"g":10,"z":0.45},{"x":-86.3,"y":162.7,"g":10,"z":0.45},{"x":-50.8,"y":146.3,"g":10,"z":0.45},{"x":-17.3,"y":127,"g":10,"z":0.45},{"x":8.3,"y":110.3,"g":10,"z":0.45},{"x":31.9,"y":94.7,"g":10,"z":0.45},{"x":28.7,"y":86.3,"g":10,"z":0.45,"e":1},{"x":0,"y":0,"g":10,"z":0.45,"e":1},{"x":-197,"y":91,"g":10,"z":0.45,"e":1},{"x":-168.3,"y":177.3,"g":10,"z":0.45,"e":1},
{"x":-168.3,"y":177.3,"g":9,"z":0.4},{"x":-128.9,"y":163.1,"g":9,"z":0.4},{"x":-89.5,"y":150.8,"g":9,"z":0.4},{"x":-54,"y":134.4,"g":9,"z":0.4},{"x":-20.5,"y":116.1,"g":9,"z":0.4},{"x":5.1,"y":100.7,"g":9,"z":0.4},{"x":28.7,"y":86.3,"g":9,"z":0.4},{"x":25.5,"y":77.7,"g":9,"z":0.4,"e":1},{"x":0,"y":0,"g":9,"z":0.4,"e":1},{"x":-197,"y":91,"g":9,"z":0.4,"e":1},{"x":-171.5,"y":168.7,"g":9,"z":0.4,"e":1},
{"x":-171.5,"y":168.7,"g":8,"z":0.35},{"x":-132.1,"y":153.3,"g":8,"z":0.35},{"x":-92.7,"y":139.2,"g":8,"z":0.35},{"x":-57.2,"y":122.8,"g":8,"z":0.35},{"x":-23.7,"y":105.4,"g":8,"z":0.35},{"x":1.9,"y":91,"g":8,"z":0.35},{"x":25.5,"y":77.7,"g":8,"z":0.35},{"x":22.3,"y":68.9,"g":8,"z":0.35,"e":1},{"x":0,"y":0,"g":8,"z":0.35,"e":1},{"x":-197,"y":91,"g":8,"z":0.35,"e":1},{"x":-174.7,"y":159.9,"g":8,"z":0.35,"e":1},
{"x":-174.7,"y":159.9,"g":7,"z":0.299},{"x":22.3,"y":68.9,"g":7,"z":0.299},{"x":19.1,"y":59.8,"g":7,"z":0.299,"e":1},{"x":0,"y":0,"g":7,"z":0.299,"e":1},{"x":-197,"y":91,"g":7,"z":0.299,"e":1},{"x":-177.9,"y":150.8,"g":7,"z":0.299,"e":1},
{"x":-177.9,"y":150.8,"g":6,"z":0.256},{"x":19.1,"y":59.8,"g":6,"z":0.256},{"x":15.9,"y":50.4,"g":6,"z":0.256,"e":1},{"x":0,"y":0,"g":6,"z":0.256,"e":1},{"x":-197,"y":91,"g":6,"z":0.256,"e":1},{"x":-181.1,"y":141.4,"g":6,"z":0.256,"e":1},
{"x":-181.1,"y":141.4,"g":5,"z":0.212},{"x":15.9,"y":50.4,"g":5,"z":0.212},{"x":12.75,"y":40.8,"g":5,"z":0.212,"e":1},{"x":0,"y":0,"g":5,"z":0.212,"e":1},{"x":-197,"y":91,"g":5,"z":0.212,"e":1},{"x":-184.25,"y":131.8,"g":5,"z":0.212,"e":1},
{"x":-184.25,"y":131.8,"g":4,"z":0.167},{"x":12.75,"y":40.8,"g":4,"z":0.167},{"x":9.6,"y":31,"g":4,"z":0.167,"e":1},{"x":0,"y":0,"g":4,"z":0.167,"e":1},{"x":-197,"y":91,"g":4,"z":0.167,"e":1},{"x":-187.4,"y":122,"g":4,"z":0.167,"e":1},
{"x":-187.4,"y":122,"g":3,"z":0.121},{"x":9.6,"y":31,"g":3,"z":0.121},{"x":6.4,"y":20.9,"g":3,"z":0.121,"e":1},{"x":0,"y":0,"g":3,"z":0.121,"e":1},{"x":-197,"y":91,"g":3,"z":0.121,"e":1},{"x":-190.6,"y":111.9,"g":3,"z":0.121,"e":1},
{"x":-190.6,"y":111.9,"g":2,"z":0.074},{"x":6.4,"y":20.9,"g":2,"z":0.074},{"x":3.2,"y":10.6,"g":2,"z":0.074,"e":1},{"x":0,"y":0,"g":2,"z":0.074,"e":1},{"x":-197,"y":91,"g":2,"z":0.074,"e":1},{"x":-193.8,"y":101.6,"g":2,"z":0.074,"e":1},
{"x":-193.8,"y":101.6,"g":1,"z":0.025},{"x":3.2,"y":10.6,"g":1,"z":0.025},{"x":0,"y":0,"g":1,"z":0.025,"e":1},{"x":-197,"y":91,"g":1,"z":0.025,"e":1}],
"dFrontX":[{"x":0,"y":0,"g":0},{"x":15.3,"y":48.5,"g":0},{"x":31.9,"y":94.7,"g":0},{"x":47.8,"y":132.8,"g":0},{"x":-4.9,"y":2.3,"g":1},{"x":10.4,"y":50.8,"g":1},{"x":27,"y":97.9,"g":1},{"x":42.9,"y":138.3,"g":1},{"x":-9.9,"y":4.6,"g":2},{"x":5.4,"y":53.1,"g":2},{"x":22,"y":101.3,"g":2},{"x":37.9,"y":144.2,"g":2},{"x":-14.8,"y":6.8,"g":3},{"x":0.5,"y":55.3,"g":3},{"x":17.1,"y":104.4,"g":3},{"x":33,"y":149.5,"g":3},{"x":-19.7,"y":9.1,"g":4},{"x":-4.4,"y":57.6,"g":4},{"x":12.2,"y":107.7,"g":4},{"x":28.1,"y":155,"g":4},{"x":-24.6,"y":11.4,"g":5},{"x":-9.3,"y":59.9,"g":5},{"x":7.3,"y":110.9,"g":5},{"x":23.2,"y":160.4,"g":5},{"x":-29.6,"y":13.7,"g":6},{"x":-14.3,"y":62.2,"g":6},{"x":2.3,"y":114.3,"g":6},{"x":18.2,"y":166.3,"g":6},{"x":-34.5,"y":15.9,"g":7},{"x":-19.2,"y":64.4,"g":7},{"x":-2.6,"y":117.7,"g":7},{"x":13.3,"y":172.6,"g":7},{"x":-39.4,"y":18.2,"g":8},{"x":-24.1,"y":66.7,"g":8},{"x":-7.5,"y":120.9,"g":8},{"x":8.4,"y":178,"g":8},{"x":13,"y":233,"g":8},{"x":-44.3,"y":20.5,"g":9},{"x":-29,"y":69,"g":9},{"x":-12.4,"y":124.3,"g":9},{"x":3.5,"y":183.9,"g":9},{"x":8.2,"y":235.2,"g":9},{"x":-49.3,"y":22.8,"g":10},{"x":-34,"y":71.3,"g":10},{"x":-17.4,"y":127.1,"g":10},{"x":-1.5,"y":188,"g":10},{"x":3.5,"y":237.3,"g":10},{"x":-54.2,"y":25,"g":11},{"x":-38.9,"y":73.5,"g":11},{"x":-22.3,"y":130.2,"g":11},{"x":-6.4,"y":192.9,"g":11},{"x":-1.3,"y":239.5,"g":11},{"x":-59.1,"y":27.3,"g":12},{"x":-43.8,"y":75.8,"g":12},{"x":-27.2,"y":133.4,"g":12},{"x":-11.3,"y":198.4,"g":12},{"x":-6.1,"y":241.6,"g":12},{"x":-64,"y":29.6,"g":13},{"x":-48.7,"y":78.1,"g":13},{"x":-32.1,"y":136.2,"g":13},{"x":-16.2,"y":202.4,"g":13},{"x":-10.9,"y":243.8,"g":13},{"x":-69,"y":31.9,"g":14},{"x":-53.7,"y":80.4,"g":14},{"x":-37.1,"y":139.2,"g":14},{"x":-21.2,"y":207,"g":14},{"x":-15.6,"y":245.9,"g":14},{"x":-73.9,"y":34.1,"g":15},{"x":-58.6,"y":82.6,"g":15},{"x":-42,"y":141.8,"g":15},{"x":-26.1,"y":210.6,"g":15},{"x":-20.4,"y":248.1,"g":15},{"x":-78.8,"y":36.4,"g":16},{"x":-63.5,"y":84.9,"g":16},{"x":-46.9,"y":144.5,"g":16},{"x":-31,"y":214.2,"g":16},{"x":-25.2,"y":250.2,"g":16},{"x":-83.7,"y":38.7,"g":17},{"x":-68.4,"y":87.2,"g":17},{"x":-51.8,"y":146.8,"g":17},{"x":-35.9,"y":216.5,"g":17},{"x":-30,"y":252.4,"g":17},{"x":-88.7,"y":41,"g":18},{"x":-73.4,"y":89.5,"g":18},{"x":-56.8,"y":149.1,"g":18},{"x":-40.9,"y":218.8,"g":18},{"x":-34.7,"y":254.5,"g":18},{"x":-93.6,"y":43.2,"g":19},{"x":-78.3,"y":91.7,"g":19},{"x":-61.7,"y":151.3,"g":19},{"x":-45.8,"y":221,"g":19},{"x":-39.5,"y":256.7,"g":19},{"x":-98.5,"y":45.5,"g":20},{"x":-83.2,"y":94,"g":20},{"x":-66.6,"y":153.6,"g":20},{"x":-50.7,"y":223.3,"g":20},{"x":-44.3,"y":258.8,"g":20},{"x":-103.4,"y":47.8,"g":21},{"x":-88.1,"y":96.3,"g":21},{"x":-71.5,"y":155.9,"g":21},{"x":-55.6,"y":225.6,"g":21},{"x":-49.1,"y":261,"g":21},{"x":-108.4,"y":50.1,"g":22},{"x":-93.1,"y":98.6,"g":22},{"x":-76.5,"y":158.2,"g":22},{"x":-60.6,"y":227.9,"g":22},{"x":-53.9,"y":263.1,"g":22},{"x":-113.3,"y":52.3,"g":23},{"x":-98,"y":100.8,"g":23},{"x":-81.4,"y":160.4,"g":23},{"x":-65.5,"y":230.1,"g":23},{"x":-58.6,"y":265.3,"g":23},{"x":-118.2,"y":54.6,"g":24},{"x":-102.9,"y":103.1,"g":24},{"x":-86.3,"y":162.7,"g":24},{"x":-70.4,"y":232.4,"g":24},{"x":-63.4,"y":267.4,"g":24},{"x":-123.1,"y":56.9,"g":25},{"x":-107.8,"y":105.4,"g":25},{"x":-91.2,"y":164.6,"g":25},{"x":-75.3,"y":233.4,"g":25},{"x":-68.2,"y":269.6,"g":25},{"x":-128.1,"y":59.2,"g":26},{"x":-112.8,"y":107.7,"g":26},{"x":-96.2,"y":166.4,"g":26},{"x":-80.3,"y":233.9,"g":26},{"x":-73,"y":271.7,"g":26},{"x":-133,"y":61.4,"g":27},{"x":-117.7,"y":109.9,"g":27},{"x":-101.1,"y":167.8,"g":27},{"x":-85.2,"y":233.4,"g":27},{"x":-77.8,"y":273.9,"g":27},{"x":-137.9,"y":63.7,"g":28},{"x":-122.6,"y":112.2,"g":28},{"x":-106,"y":168.9,"g":28},{"x":-90.1,"y":231.6,"g":28},{"x":-82.5,"y":276,"g":28},{"x":-142.8,"y":66,"g":29},{"x":-127.5,"y":114.5,"g":29},{"x":-110.9,"y":170.1,"g":29},{"x":-95,"y":230.3,"g":29},{"x":-87.3,"y":278.2,"g":29},{"x":-147.8,"y":68.3,"g":30},{"x":-132.5,"y":116.8,"g":30},{"x":-115.9,"y":171,"g":30},{"x":-100,"y":228.1,"g":30},{"x":-92,"y":280.3,"g":30},{"x":-152.7,"y":70.5,"g":31},{"x":-137.4,"y":119,"g":31},{"x":-120.8,"y":171.9,"g":31},{"x":-104.9,"y":225.8,"g":31},{"x":-157.6,"y":72.8,"g":32},{"x":-142.3,"y":121.3,"g":32},{"x":-125.7,"y":172.9,"g":32},{"x":-109.8,"y":223.6,"g":32},{"x":-162.5,"y":75.1,"g":33},{"x":-147.2,"y":123.6,"g":33},{"x":-130.6,"y":174.1,"g":33},{"x":-114.7,"y":222.3,"g":33},{"x":-167.5,"y":77.4,"g":34},{"x":-152.2,"y":125.9,"g":34},{"x":-135.6,"y":175.5,"g":34},{"x":-119.7,"y":221.5,"g":34},{"x":-172.4,"y":79.6,"g":35},{"x":-157.1,"y":128.1,"g":35},{"x":-140.5,"y":176.7,"g":35},{"x":-124.6,"y":220.5,"g":35},{"x":-177.3,"y":81.9,"g":36},{"x":-162,"y":130.4,"g":36},{"x":-145.4,"y":178.2,"g":36},{"x":-129.5,"y":220.1,"g":36},{"x":-182.2,"y":84.2,"g":37},{"x":-166.9,"y":132.7,"g":37},{"x":-150.3,"y":180,"g":37},{"x":-134.4,"y":220.6,"g":37},{"x":-187.2,"y":86.5,"g":38},{"x":-171.9,"y":135,"g":38},{"x":-155.3,"y":181.9,"g":38},{"x":-139.4,"y":221.6,"g":38},{"x":-192.1,"y":88.7,"g":39},{"x":-176.8,"y":137.2,"g":39},{"x":-160.2,"y":183.7,"g":39},{"x":-144.3,"y":222.4,"g":39},{"x":-197,"y":91,"g":40},{"x":-181.7,"y":139.5,"g":40},{"x":-165.1,"y":185.7,"g":40},{"x":-149.2,"y":223.8,"g":40}],
"dWall":[{"x":-109.8,"y":223.6,"g":1,"z":0.77},{"x":-96,"y":268,"g":1,"z":0.77},{"x":-92,"y":280.3,"g":1,"z":0.77},{"x":-63.4,"y":267.4,"g":1,"z":0.77},{"x":-70.4,"y":232.4,"g":1,"z":0.77},{"x":-70.4,"y":232.4,"g":2,"z":0.81},{"x":-63.4,"y":267.4,"g":2,"z":0.81},{"x":-29,"y":251.9,"g":2,"z":0.81},{"x":-34.9,"y":216,"g":2,"z":0.81},{"x":-34.9,"y":216,"g":3,"z":0.84},{"x":-29,"y":251.9,"g":3,"z":0.84},{"x":-5.9,"y":241.5,"g":3,"z":0.84},{"x":-11.3,"y":198.4,"g":3,"z":0.84},{"x":-11.3,"y":198.4,"g":4,"z":0.84},{"x":-5.9,"y":241.5,"g":4,"z":0.84},{"x":13,"y":233,"g":4,"z":0.84},{"x":8.4,"y":178,"g":4,"z":0.84},{"x":8.4,"y":178,"g":5,"z":0.76},{"x":13,"y":233,"g":5,"z":0.76},{"x":23.4,"y":187.9,"g":5,"z":0.76},{"x":37.2,"y":156.7,"g":5,"z":0.76},{"x":51,"y":139.7,"g":5,"z":0.76},{"x":47.8,"y":132.8,"g":5,"z":0.76},{"x":24.2,"y":159.5,"g":5,"z":0.76}],
"dPatch":[{"x":51,"y":139.7,"g":1,"z":0.718},{"x":37.2,"y":156.7,"g":1,"z":0.718},{"x":50,"y":178.6,"g":1,"z":0.718},{"x":63.75,"y":164.8,"g":1,"z":0.718},{"x":37.2,"y":156.7,"g":2,"z":0.794},{"x":23.4,"y":187.9,"g":2,"z":0.794},{"x":36.2,"y":202.2,"g":2,"z":0.794},{"x":50,"y":178.6,"g":2,"z":0.794},{"x":23.4,"y":187.9,"g":3,"z":0.924},{"x":13,"y":233,"g":3,"z":0.924},{"x":25.4,"y":236.3,"g":3,"z":0.924},{"x":36.2,"y":202.2,"g":3,"z":0.924},{"x":63.75,"y":164.8,"g":4,"z":0.81},{"x":50,"y":178.6,"g":4,"z":0.81},{"x":62.7,"y":197,"g":4,"z":0.81},{"x":76.5,"y":185.9,"g":4,"z":0.81},{"x":50,"y":178.6,"g":5,"z":0.862},{"x":36.2,"y":202.2,"g":5,"z":0.862},{"x":48.9,"y":214.4,"g":5,"z":0.862},{"x":62.7,"y":197,"g":5,"z":0.862},{"x":36.2,"y":202.2,"g":6,"z":0.949},{"x":25.4,"y":236.3,"g":6,"z":0.949},{"x":37.9,"y":239.7,"g":6,"z":0.949},{"x":48.9,"y":214.4,"g":6,"z":0.949},{"x":76.5,"y":185.9,"g":7,"z":0.884},{"x":62.7,"y":197,"g":7,"z":0.884},{"x":75.5,"y":212.2,"g":7,"z":0.884},{"x":89.25,"y":203.1,"g":7,"z":0.884},{"x":62.7,"y":197,"g":8,"z":0.916},{"x":48.9,"y":214.4,"g":8,"z":0.916},{"x":61.7,"y":224.7,"g":8,"z":0.916},{"x":75.5,"y":212.2,"g":8,"z":0.916},{"x":48.9,"y":214.4,"g":9,"z":0.969},{"x":37.9,"y":239.7,"g":9,"z":0.969},{"x":50.3,"y":243,"g":9,"z":0.969},{"x":61.7,"y":224.7,"g":9,"z":0.969},{"x":89.25,"y":203.1,"g":10,"z":0.94},{"x":75.5,"y":212.2,"g":10,"z":0.94},{"x":88.2,"y":223.9,"g":10,"z":0.94},{"x":102,"y":216.3,"g":10,"z":0.94},{"x":75.5,"y":212.2,"g":11,"z":0.956},{"x":61.7,"y":224.7,"g":11,"z":0.956},{"x":74.4,"y":233,"g":11,"z":0.956},{"x":88.2,"y":223.9,"g":11,"z":0.956},{"x":61.7,"y":224.7,"g":12,"z":0.984},{"x":50.3,"y":243,"g":12,"z":0.984},{"x":62.8,"y":246.4,"g":12,"z":0.984},{"x":74.4,"y":233,"g":12,"z":0.984},{"x":102,"y":216.3,"g":13,"z":0.986},{"x":88.2,"y":223.9,"g":13,"z":0.986},{"x":113.7,"y":237.4,"g":13,"z":0.986},{"x":127.5,"y":231,"g":13,"z":0.986},{"x":88.2,"y":223.9,"g":14,"z":0.99},{"x":74.4,"y":233,"g":14,"z":0.99},{"x":99.9,"y":243.7,"g":14,"z":0.99},{"x":113.7,"y":237.4,"g":14,"z":0.99},{"x":74.4,"y":233,"g":15,"z":0.996},{"x":62.8,"y":246.4,"g":15,"z":0.996},{"x":87.5,"y":253,"g":15,"z":0.996},{"x":99.9,"y":243.7,"g":15,"z":0.996},{"x":127.5,"y":231,"g":16,"z":0.98},{"x":113.7,"y":237.4,"g":16,"z":0.98},{"x":139.2,"y":237.5,"g":16,"z":0.98},{"x":153,"y":229.9,"g":16,"z":0.98},{"x":113.7,"y":237.4,"g":17,"z":0.986},{"x":99.9,"y":243.7,"g":17,"z":0.986},{"x":125.4,"y":246.6,"g":17,"z":0.986},{"x":139.2,"y":237.5,"g":17,"z":0.986},{"x":99.9,"y":243.7,"g":18,"z":0.995},{"x":87.5,"y":253,"g":18,"z":0.995},{"x":112.4,"y":259.7,"g":18,"z":0.995},{"x":125.4,"y":246.6,"g":18,"z":0.995},{"x":153,"y":229.9,"g":19,"z":0.91},{"x":125.4,"y":246.6,"g":19,"z":0.91},{"x":150.9,"y":243,"g":19,"z":0.91},{"x":156,"y":233,"g":19,"z":0.91},{"x":125.4,"y":246.6,"g":20,"z":0.975},{"x":112.4,"y":259.7,"g":20,"z":0.975},{"x":137.3,"y":266.4,"g":20,"z":0.975},{"x":150.9,"y":243,"g":20,"z":0.975},{"x":137.3,"y":266.4,"g":21,"z":0.9},{"x":149.7,"y":269.7,"g":21,"z":0.9},{"x":155,"y":236,"g":21,"z":0.9},{"x":150.9,"y":243,"g":21,"z":0.9}],
"dPatchX":[{"x":44.1,"y":148.2,"g":1},{"x":56.9,"y":171.7,"g":1},{"x":69.6,"y":191.5,"g":1},{"x":82.4,"y":207.7,"g":1},{"x":95.1,"y":220.1,"g":1},{"x":120.6,"y":234.2,"g":1},{"x":146.1,"y":233.7,"g":1},{"x":155,"y":235.5,"g":1},{"x":30.3,"y":172.3,"g":2},{"x":43.1,"y":190.4,"g":2},{"x":55.8,"y":205.7,"g":2},{"x":68.6,"y":218.5,"g":2},{"x":81.3,"y":228.5,"g":2},{"x":106.8,"y":240.6,"g":2},{"x":132.3,"y":242,"g":2},{"x":152.5,"y":240.5,"g":2},{"x":18.2,"y":210.5,"g":3},{"x":30.8,"y":219.3,"g":3},{"x":43.4,"y":227,"g":3},{"x":56,"y":233.9,"g":3},{"x":68.6,"y":239.7,"g":3},{"x":93.7,"y":248.4,"g":3},{"x":118.9,"y":253.2,"g":3},{"x":144,"y":254.7,"g":3},{"x":57.4,"y":152.7,"g":4},{"x":43.6,"y":168,"g":4},{"x":29.8,"y":195.2,"g":4},{"x":19.2,"y":234.7,"g":4},{"x":70.1,"y":175.8,"g":5},{"x":56.3,"y":188.2,"g":5},{"x":42.5,"y":208.5,"g":5},{"x":31.6,"y":238,"g":5},{"x":82.9,"y":195,"g":6},{"x":69.1,"y":205,"g":6},{"x":55.3,"y":219.8,"g":6},{"x":44,"y":241.3,"g":6},{"x":95.6,"y":210.2,"g":7},{"x":81.8,"y":218.4,"g":7},{"x":68,"y":229,"g":7},{"x":56.5,"y":244.7,"g":7},{"x":108.4,"y":221.5,"g":8},{"x":94.6,"y":228.6,"g":8},{"x":80.8,"y":236.4,"g":8},{"x":68.9,"y":248,"g":8},{"x":114.75,"y":225.6,"g":9},{"x":101,"y":232.3,"g":9},{"x":87.2,"y":239.3,"g":9},{"x":75.2,"y":249.7,"g":9},{"x":121.1,"y":228.9,"g":10},{"x":107.3,"y":235.4,"g":10},{"x":93.5,"y":241.9,"g":10},{"x":81.4,"y":251.4,"g":10},{"x":140.25,"y":232.4,"g":11},{"x":126.5,"y":239.1,"g":11},{"x":112.7,"y":246.1,"g":11},{"x":100,"y":256.3,"g":11},{"x":152,"y":233,"g":12},{"x":138.2,"y":245.1,"g":12},{"x":124.8,"y":263,"g":12}],
"dAxis":[{"x":-198.5,"y":90,"x2":-198.5,"y2":287},{"x":-198.5,"y":287,"x2":-203,"y2":288},{"x":-198.5,"y":248,"x2":-203,"y2":249},{"x":-198.5,"y":208.7,"x2":-203,"y2":209.7},{"x":-198.5,"y":169,"x2":-203,"y2":170},{"x":-198.5,"y":129.7,"x2":-203,"y2":130.7},{"x":-198.5,"y":89.7,"x2":-203,"y2":90.7},{"x":-205,"y":87,"x2":-0.3,"y2":-2},{"x":-0.3,"y":-2,"x2":259.7,"y2":64.7},{"x":-157.6,"y":72,"x2":-153.6,"y2":71},{"x":-118.2,"y":54,"x2":-114.2,"y2":53},{"x":-78.8,"y":36,"x2":-74.8,"y2":35},{"x":-39.4,"y":18,"x2":-35.4,"y2":17},{"x":51,"y":11.6,"x2":47,"y2":13.6},{"x":102,"y":25.2,"x2":98,"y2":27.2},{"x":153,"y":38.8,"x2":149,"y2":40.8},{"x":204,"y":52.4,"x2":200,"y2":54.4}],
"dText":[{"x":-210.3,"y":289,"t":"1"},{"x":-214,"y":250,"t":"0.8"},{"x":-214,"y":210,"t":"0.6"},{"x":-214,"y":171,"t":"0.4"},{"x":-214,"y":131,"t":"0.2"},{"x":-210.3,"y":92,"t":"0"},{"x":-210.3,"y":79.7,"t":"1"},{"x":-175.3,"y":61.3,"t":"0.8"},{"x":-136,"y":43.7,"t":"0.6"},{"x":-97,"y":25.7,"t":"0.4"},{"x":-57.7,"y":8,"t":"0.2"},{"x":-13.7,"y":-10.3,"t":"0"},{"x":9.7,"y":-12,"t":"0"},{"x":65.3,"y":1.3,"t":"0.2"},{"x":116.3,"y":15.7,"t":"0.4"},{"x":168,"y":29.7,"t":"0.6"},{"x":219,"y":43.7,"t":"0.8"}]
},
"vconcat":[
{"hconcat":[
{"width":496.5,"height":383,
"encoding":{"x":{"field":"x","type":"quantitative","axis":null,"scale":{"domain":[-248.5,248],"nice":false,"zero":false}},"y":{"field":"y","type":"quantitative","axis":null,"scale":{"domain":[-102,281],"nice":false,"zero":false}}},
"layer":[
{"data":{"name":"aBase"},"mark":{"type":"line","order":null,"fill":"#00FFFF","stroke":null,"strokeWidth":0,"interpolate":"linear-closed"}},
{"data":{"name":"aLat"},"mark":{"type":"rule","stroke":"#000","strokeWidth":0.8},"encoding":{"x2":{"field":"x2"},"y2":{"field":"y2"}}},
{"data":{"name":"aRow"},"mark":{"type":"rule","stroke":"#000","strokeWidth":0.8},"encoding":{"x2":{"field":"x2"}}},
{"data":{"name":"aMask"},"mark":{"type":"line","order":null,"fill":"#fff","stroke":null,"strokeWidth":0,"interpolate":"linear-closed"}},
{"data":{"name":"aMask"},"transform":[{"filter":"!datum.e"}],"mark":{"type":"line","order":null,"stroke":"#000","strokeWidth":0.6}},
{"data":{"name":"aHole"},"mark":{"type":"line","order":null,"fill":"#fff","stroke":"#000","strokeWidth":0.7}},
{"data":{"name":"aPeak"},"mark":{"type":"line","order":null,"interpolate":"linear-closed","stroke":"#000","strokeWidth":0.8,"fill":{"gradient":"linear","x1":0,"y1":1,"x2":0,"y2":0,"stops":[{"offset":0,"color":"#00FFFF"},{"offset":1,"color":"#DB24FF"}]}}},
{"data":{"name":"aEdge"},"mark":{"type":"rule","stroke":"#000","strokeWidth":0.8},"encoding":{"x2":{"field":"x2"},"y2":{"field":"y2"}}},
{"data":{"name":"aAxis"},"mark":{"type":"rule","stroke":"#333","strokeWidth":0.8},"encoding":{"x2":{"field":"x2"},"y2":{"field":"y2"}}},
{"data":{"name":"aText"},"mark":{"type":"text","baseline":"middle","align":"center"},"encoding":{"text":{"field":"t"}}}
]},
{"width":384,"height":383,
"encoding":{"x":{"field":"x","type":"quantitative","axis":null,"scale":{"domain":[-3.032,3.128],"nice":false,"zero":false}},"y":{"field":"y","type":"quantitative","axis":null,"scale":{"domain":[-3.048,3.096],"nice":false,"zero":false}}},
"layer":[
{"data":{"name":"bRing"},"mark":{"type":"arc","filled":false,"stroke":"#333","strokeWidth":0.8,"strokeDash":[1,2.6],"theta":0,"theta2":6.2832},"encoding":{"radius":{"field":"r","type":"quantitative","stack":null,"scale":{"domain":[0,3],"range":[0,187]}}}},
{"data":{"name":"bSpoke"},"mark":{"type":"rule","stroke":"#333","strokeWidth":0.8,"strokeDash":[1,2.6]},"encoding":{"x2":{"datum":0},"y2":{"datum":0}}},
{"data":{"name":"bCurve"},"mark":{"type":"line","order":null,"stroke":"#000","strokeWidth":1}},
{"data":{"values":[{"x":0,"y":0}]},"mark":{"type":"point","filled":true,"fill":"#000","size":7,"opacity":1}}
]}
],"spacing":69.5,"bounds":"flush"},
{"hconcat":[
{"width":291.5,"height":365,
"encoding":{"x":{"field":"x","type":"quantitative","scale":{"domain":[-0.5,18.2],"nice":false,"zero":false},"axis":{"title":null,"values":[0,5,10,15],"grid":false,"zindex":1,"tickSize":-3,"labelPadding":7,"domainColor":"#000","tickColor":"#000","labelColor":"#222","labelFont":"Liberation Sans","labelFontSize":10}},"y":{"field":"y","type":"quantitative","scale":{"domain":[0.8,21],"nice":false,"zero":false},"axis":{"title":null,"values":[2,4,6,8,10,12,14,16,18,20],"grid":false,"zindex":1,"tickSize":-3,"labelPadding":6,"domainColor":"#000","tickColor":"#000","labelColor":"#222","labelFont":"Liberation Sans","labelFontSize":10}}},
"layer":[
{"data":{"name":"cDiag"},"mark":{"type":"rule","stroke":"#000","strokeWidth":1.1,"clip":true},"encoding":{"x2":{"field":"x2"},"y2":{"field":"y2"}}},
{"data":{"name":"cRow"},"mark":{"type":"rule","stroke":"#000","strokeWidth":1.1},"encoding":{"x2":{"field":"x2"}}},
{"data":{"name":"cOut"},"mark":{"type":"line","order":null,"fill":"#fff","stroke":null,"strokeWidth":0,"interpolate":"linear-closed"}},
{"data":{"name":"cHole"},"mark":{"type":"line","order":null,"fill":"#fff","stroke":"#000","strokeWidth":0.6,"interpolate":"linear-closed"},"encoding":{"detail":{"field":"g"}}},
{"data":{"name":"cOut"},"transform":[{"filter":"!datum.e"}],"mark":{"type":"line","order":null,"stroke":"#000","strokeWidth":1}}
]},
{"width":484,"height":380,
"encoding":{"x":{"field":"x","type":"quantitative","axis":null,"scale":{"domain":[-222,262],"nice":false,"zero":false}},"y":{"field":"y","type":"quantitative","axis":null,"scale":{"domain":[-19,361],"nice":false,"zero":false}}},
"layer":[
{"data":{"name":"dLobe"},"mark":{"type":"line","order":null,"stroke":"#000","strokeWidth":0.5,"interpolate":"linear-closed"},"encoding":{"detail":{"field":"g"},"fill":{"field":"z","type":"quantitative","legend":null,"scale":{"domain":[0,0.125,0.375,0.625,0.875,1],"range":["#00008F","#0000FF","#00FFFF","#FFFF00","#FF0000","#800000"],"interpolate":"rgb"}}}},
{"data":{"name":"dLobeX"},"mark":{"type":"line","order":null,"stroke":"#000","strokeWidth":0.6},"encoding":{"detail":{"field":"g"}}},
{"data":{"name":"dHump"},"mark":{"type":"line","order":null,"stroke":"#000","strokeWidth":0.5,"interpolate":"linear-closed"},"encoding":{"detail":{"field":"g"},"fill":{"field":"z","type":"quantitative","legend":null,"scale":{"domain":[0,0.125,0.375,0.625,0.875,1],"range":["#00008F","#0000FF","#00FFFF","#FFFF00","#FF0000","#800000"],"interpolate":"rgb"}}}},
{"data":{"name":"dHumpX"},"mark":{"type":"line","order":null,"stroke":"#000","strokeWidth":0.6},"encoding":{"detail":{"field":"g"}}},
{"data":{"name":"dPlate"},"mark":{"type":"line","order":null,"fill":"#800000","stroke":"#000","strokeWidth":0.6,"interpolate":"linear-closed"}},
{"data":{"name":"dGrid"},"mark":{"type":"rule","stroke":"#000","strokeWidth":0.6},"encoding":{"x2":{"field":"x2"},"y2":{"field":"y2"}}},
{"data":{"name":"dPatch"},"mark":{"type":"line","order":null,"stroke":"#000","strokeWidth":0.6,"interpolate":"linear-closed"},"encoding":{"detail":{"field":"g"},"fill":{"field":"z","type":"quantitative","legend":null,"scale":{"domain":[0,0.125,0.375,0.625,0.875,1],"range":["#00008F","#0000FF","#00FFFF","#FFFF00","#FF0000","#800000"],"interpolate":"rgb"}}}},
{"data":{"name":"dPatchX"},"mark":{"type":"line","order":null,"stroke":"#000","strokeWidth":0.6},"encoding":{"detail":{"field":"g"}}},
{"data":{"name":"dFront"},"mark":{"type":"line","order":null,"stroke":null,"strokeWidth":0,"interpolate":"linear-closed"},"encoding":{"detail":{"field":"g"},"fill":{"field":"z","type":"quantitative","legend":null,"scale":{"domain":[0,0.125,0.375,0.625,0.875,1],"range":["#00008F","#0000FF","#00FFFF","#FFFF00","#FF0000","#800000"],"interpolate":"rgb"}}}},
{"data":{"name":"dWall"},"mark":{"type":"line","order":null,"stroke":null,"strokeWidth":0,"interpolate":"linear-closed"},"encoding":{"detail":{"field":"g"},"fill":{"field":"z","type":"quantitative","legend":null,"scale":{"domain":[0,0.125,0.375,0.625,0.875,1],"range":["#00008F","#0000FF","#00FFFF","#FFFF00","#FF0000","#800000"],"interpolate":"rgb"}}}},
{"data":{"name":"dFront"},"transform":[{"filter":"!datum.e"}],"mark":{"type":"line","order":null,"stroke":"#000","strokeWidth":0.6},"encoding":{"detail":{"field":"g"}}},
{"data":{"name":"dFrontX"},"mark":{"type":"line","order":null,"stroke":"#000","strokeWidth":0.6},"encoding":{"detail":{"field":"g"}}},
{"data":{"name":"dAxis"},"mark":{"type":"rule","stroke":"#222","strokeWidth":0.8},"encoding":{"x2":{"field":"x2"},"y2":{"field":"y2"}}},
{"data":{"name":"dText"},"mark":{"type":"text","baseline":"middle","align":"center"},"encoding":{"text":{"field":"t"}}}
]}
],"spacing":175,"bounds":"flush"}
]}
